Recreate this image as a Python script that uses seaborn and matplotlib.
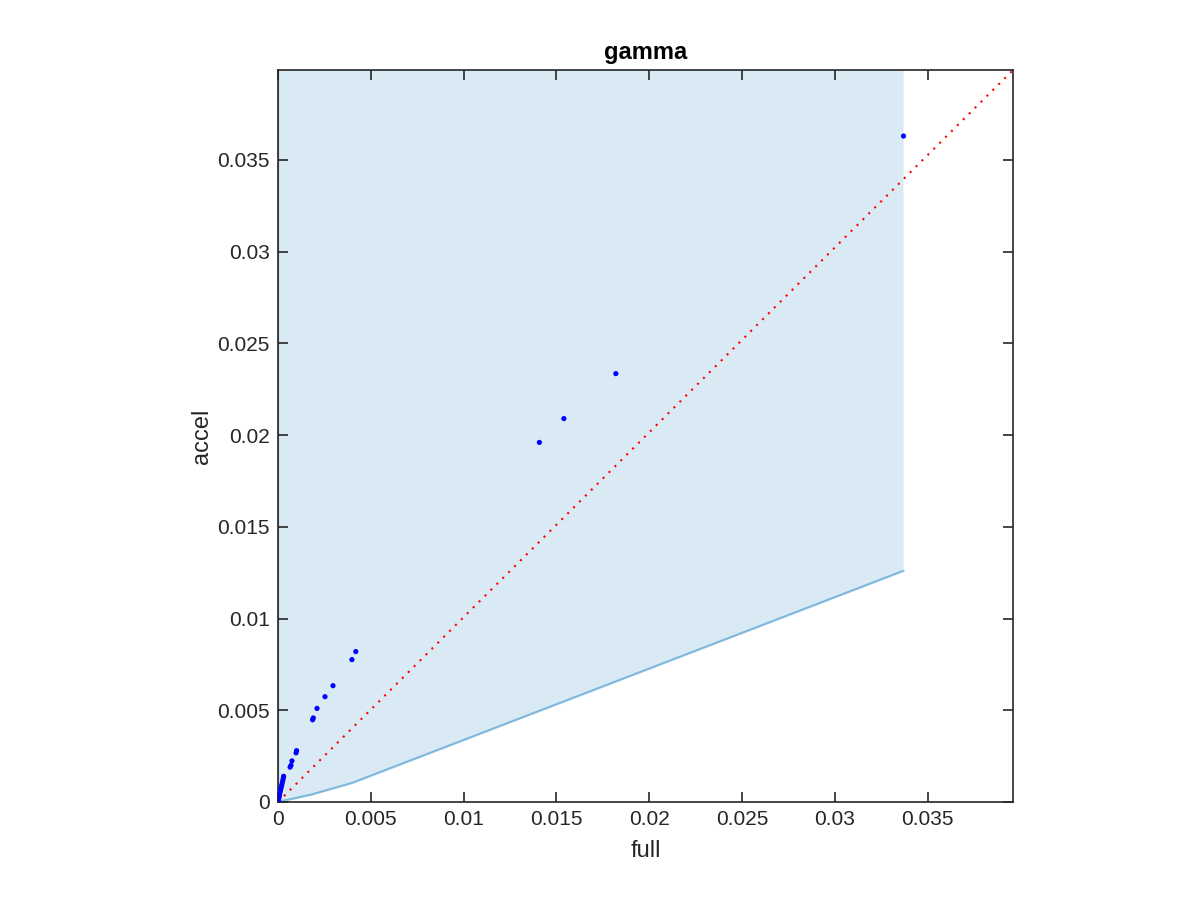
import matplotlib
matplotlib.use("Agg")
import matplotlib.pyplot as plt
import seaborn as sns
import numpy as np
import pandas as pd

sns.set_theme(style="white")
plt.rcParams["font.family"] = ["Liberation Sans", "DejaVu Sans"]

# scatter points (full vs accel)
full = [0, 0.00001, 0.00002, 0.00004, 0.00006, 0.00008, 0.00010, 0.00013, 0.00016,
        0.00019, 0.00022, 0.00025, 0.00028, 0.00030, 0.00065, 0.00070, 0.00075,
        0.00097, 0.00100, 0.00186, 0.00190, 0.00210, 0.00253, 0.00296, 0.00398,
        0.00419, 0.01408, 0.01540, 0.01820, 0.03370]
accel = [0, 0.00004, 0.00010, 0.00020, 0.00030, 0.00040, 0.00050, 0.00062, 0.00075,
         0.00088, 0.00100, 0.00115, 0.00128, 0.00140, 0.00190, 0.00200, 0.00224,
         0.00268, 0.00280, 0.00448, 0.00458, 0.00510, 0.00574, 0.00634, 0.00776,
         0.00820, 0.01960, 0.02090, 0.02335, 0.03630]

# shaded band
band_x = [0, 0.00001, 0.0018, 0.0040, 0.0337]
band_lo = [0, 0.000004, 0.00040, 0.00104, 0.01260]
band_hi = [0, 1.0, 1.0, 1.0, 1.0]

xlim = 0.0396
ylim = 0.0399
ticks = [0, 0.005, 0.01, 0.015, 0.02, 0.025, 0.03, 0.035]
tick_labels = ["0", "0.005", "0.01", "0.015", "0.02", "0.025", "0.03", "0.035"]

df = pd.DataFrame({"full": full, "accel": accel})

fig = plt.figure(figsize=(12, 9), dpi=100)
ax = fig.add_axes([0.2317, 0.1089, 0.6125, 0.8133])
ax.set_axisbelow(False)

ax.fill_between(band_x, band_lo, band_hi, color="#0072BD", alpha=0.15, linewidth=0)
ax.plot(band_x, band_lo, color="#0072BD", alpha=0.45, lw=1.6)
ax.plot(band_x, band_hi, color="#0072BD", alpha=0.45, lw=1.6)
ax.plot([0, xlim], [0, ylim], color="red", ls=(0, (1, 3)), lw=1.5)
sns.scatterplot(data=df, x="full", y="accel", color="blue", s=14, edgecolor="none", ax=ax, zorder=3)

ax.set_xlim(0, xlim)
ax.set_ylim(0, ylim)
ax.set_xticks(ticks)
ax.set_xticklabels(tick_labels)
ax.set_yticks(ticks)
ax.set_yticklabels(tick_labels)
ax.tick_params(direction="in", length=7, width=1.2, colors="#262626", labelsize=15,
               top=True, right=True, bottom=True, left=True,
               labelcolor="#262626", pad=6)
for s in ax.spines.values():
    s.set_color("#262626")
    s.set_linewidth(1.2)
ax.set_xlabel("full", fontsize=17, color="#262626", labelpad=8)
ax.set_ylabel("accel", fontsize=17, color="#262626", labelpad=3)
ax.set_title("gamma", fontsize=17, fontweight="bold", color="black", pad=8)

fig.savefig("out.png", dpi=100)
